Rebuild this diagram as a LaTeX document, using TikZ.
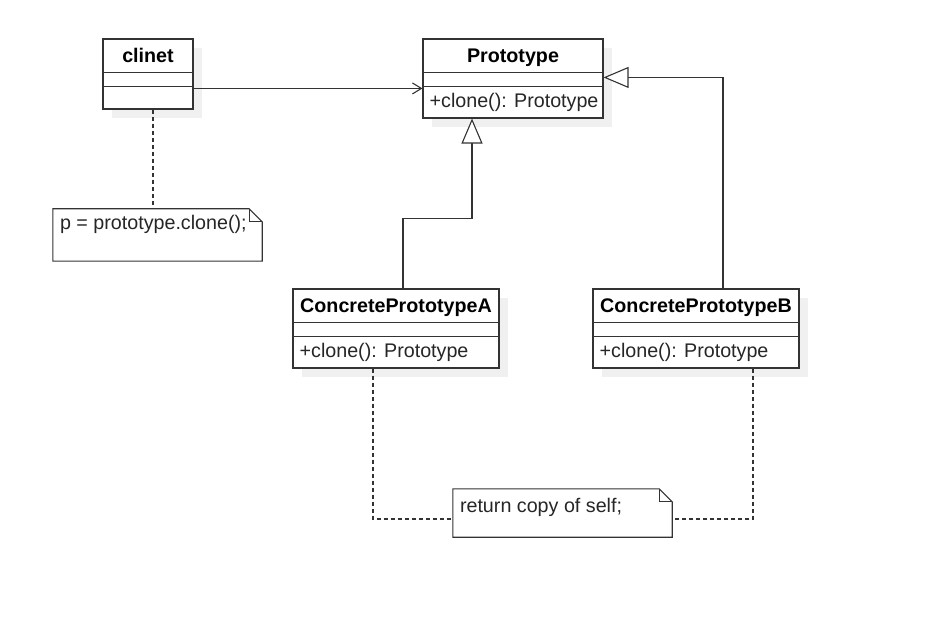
\documentclass[tikz,border=0pt]{standalone}
\usepackage{fontspec}
\setmainfont{Liberation Sans}
\usepackage{xcolor}
\usetikzlibrary{arrows.meta, positioning, calc, shadows}
\definecolor{linegray}{RGB}{51,51,51}
\tikzstyle{classbox} = [rectangle, draw=linegray, line width=1.1pt, fill=white, inner sep=0pt, drop shadow={shadow xshift=9pt, shadow yshift=-9pt, fill=black!6, opacity=1}]
\tikzstyle{notebox} = [rectangle, inner sep=0pt]
\tikzstyle{classname} = [font=\fontsize{19.7}{23}\selectfont\bfseries, inner sep=0pt, anchor=base]
\tikzstyle{member} = [font=\fontsize{19.7}{23}\selectfont, text=black!85, inner sep=0pt, anchor=base west]
\tikzstyle{divider} = [draw=linegray, line width=1.1pt]
\tikzstyle{assoc} = [draw=linegray, line width=1.1pt, -{Straight Barb[length=9pt, width=11pt]}]
\tikzstyle{inherit} = [draw=linegray, line width=1.1pt, -{Triangle[open, length=25pt, width=21pt, fill=white]}]
\tikzstyle{noteline} = [draw=linegray, line width=1.1pt, dash pattern=on 4pt off 3pt]

\begin{document}
\begin{tikzpicture}[x=1pt, y=1pt]
\useasboundingbox (0,0) rectangle (949,624);

% classes
\node (clinet) [classbox, minimum width=90pt, minimum height=70pt] at (148,550) {};
\node (proto) [classbox, minimum width=180pt, minimum height=79pt] at (513,545.5) {};
\node (cpa) [classbox, minimum width=206pt, minimum height=79pt] at (396,295.5) {};
\node (cpb) [classbox, minimum width=206pt, minimum height=79pt] at (696,295.5) {};

\foreach \c in {clinet, proto, cpa, cpb} {
  \draw [divider] ([yshift=-34pt]\c.north west) -- ([yshift=-34pt]\c.north east);
  \draw [divider] ([yshift=-48pt]\c.north west) -- ([yshift=-48pt]\c.north east);
}

\node (clinetname) [classname] at ([yshift=-24pt]clinet.north) {clinet};
\node (protoname) [classname] at ([yshift=-24pt]proto.north) {Prototype};
\node (cpaname) [classname] at ([yshift=-24pt]cpa.north) {ConcretePrototypeA};
\node (cpbname) [classname] at ([yshift=-24pt]cpb.north) {ConcretePrototypeB};
\node (protoop) [member] at ([shift={(7pt,-69pt)}]proto.north west) {+clone(): Prototype};
\node (cpaop) [member] at ([shift={(7pt,-69pt)}]cpa.north west) {+clone(): Prototype};
\node (cpbop) [member] at ([shift={(7pt,-69pt)}]cpb.north west) {+clone(): Prototype};

% notes
\node (note1) [notebox, minimum width=209pt, minimum height=52pt] at (157.5,389) {};
\node (note2) [notebox, minimum width=219pt, minimum height=48pt] at (562.5,111) {};
\foreach \n in {note1, note2} {
  \draw [divider, fill=white] (\n.south west) -- (\n.north west) -- ([xshift=-13pt]\n.north east)
    -- ([yshift=-13pt]\n.north east) -- (\n.south east) -- cycle;
  \draw [divider] ([xshift=-13pt]\n.north east) |- ([yshift=-13pt]\n.north east);
}
\node (note1text) [member] at ([shift={(7pt,-21pt)}]note1.north west) {p = prototype.clone();};
\node (note2text) [member] at ([shift={(7pt,-24pt)}]note2.north west) {return copy of self;};

% connectors
\draw [assoc] ([yshift=-50pt]clinet.north east) -- ([yshift=-50pt]proto.north west);
\draw [inherit] ([xshift=7pt]cpa.north) -- ++(0,70) -| ([xshift=-41pt]proto.south);
\draw [inherit] ([xshift=27pt]cpb.north) |- ([yshift=-39pt]proto.north east);
\draw [noteline] ([xshift=5pt]clinet.south) -- ([xshift=5pt]clinet.south |- note1.north);
\draw [noteline] ([xshift=-23pt]cpa.south) |- ([yshift=-6pt]note2.west);
\draw [noteline] ([xshift=57pt]cpb.south) |- ([yshift=-6pt]note2.east);
\end{tikzpicture}
\end{document}
